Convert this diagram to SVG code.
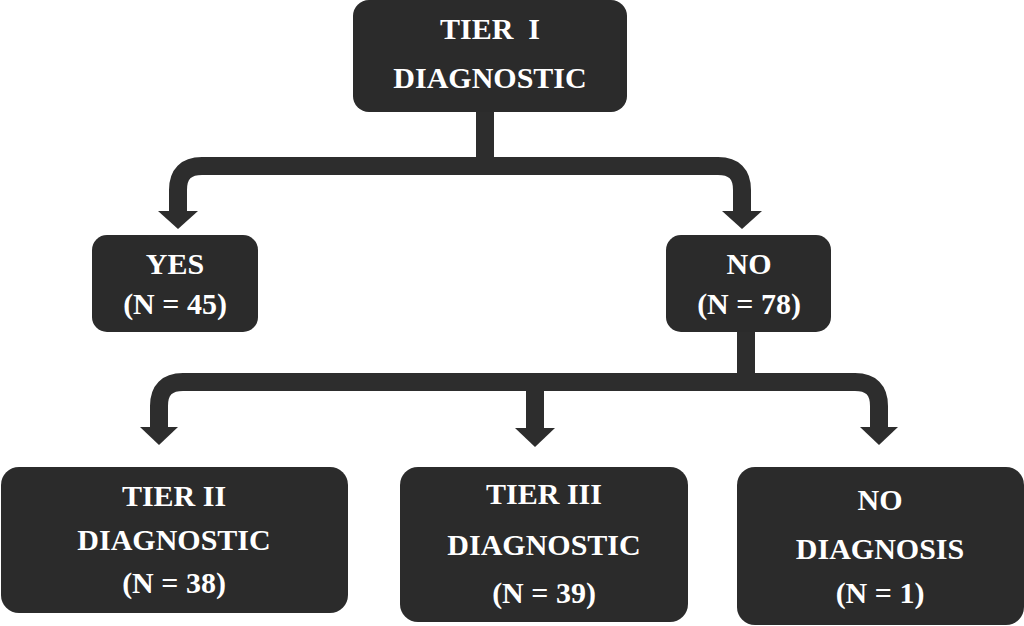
<svg xmlns="http://www.w3.org/2000/svg" width="1024" height="626" viewBox="0 0 1024 626">
<style>
.box{fill:#2b2b2b}
.conn{fill:none;stroke:#2d2d2d;stroke-width:18}
.head{fill:#2d2d2d}
text{font-family:"Liberation Serif","Times New Roman",serif;font-weight:bold;font-size:30px;fill:#ffffff;text-anchor:middle;white-space:pre}
</style>
<rect width="1024" height="626" fill="#ffffff"/>
<g id="connectors">
<path class="conn" d="M485,110 V166"/>
<path class="conn" d="M178,213 V190 Q178,166 202,166 H718 Q742,166 742,190 V213"/>
<polygon class="head" points="158,211 198,211 178,229"/>
<polygon class="head" points="722,211 762,211 742,229"/>
<path class="conn" d="M746,330 V382"/>
<path class="conn" d="M159,429 V406 Q159,382 183,382 H855 Q879,382 879,406 V429"/>
<path class="conn" d="M535,382 V429"/>
<polygon class="head" points="140,427 178,427 159,445"/>
<polygon class="head" points="515,428 555,428 535,447"/>
<polygon class="head" points="860,427 898,427 879,445"/>
</g>
<g id="tier1">
<rect class="box" x="353" y="0" width="274" height="112" rx="16"/>
<text x="490" y="39" xml:space="preserve">TIER  I</text>
<text x="490" y="88">DIAGNOSTIC</text>
</g>
<g id="yes">
<rect class="box" x="92" y="235" width="166" height="97" rx="15"/>
<text x="175" y="274">YES</text>
<text x="175" y="314">(N = 45)</text>
</g>
<g id="no">
<rect class="box" x="666" y="235" width="165" height="97" rx="15"/>
<text x="749" y="274">NO</text>
<text x="749" y="314">(N = 78)</text>
</g>
<g id="tier2">
<rect class="box" x="1" y="467" width="347" height="146" rx="18"/>
<text x="174" y="506">TIER II</text>
<text x="174" y="550">DIAGNOSTIC</text>
<text x="174" y="593">(N = 38)</text>
</g>
<g id="tier3">
<rect class="box" x="400" y="467" width="288" height="155" rx="18"/>
<text x="544" y="504">TIER III</text>
<text x="544" y="555">DIAGNOSTIC</text>
<text x="544" y="603">(N = 39)</text>
</g>
<g id="nodiag">
<rect class="box" x="737" y="467" width="287" height="158" rx="18"/>
<text x="880" y="510">NO</text>
<text x="880" y="559">DIAGNOSIS</text>
<text x="880" y="603">(N = 1)</text>
</g>
</svg>
